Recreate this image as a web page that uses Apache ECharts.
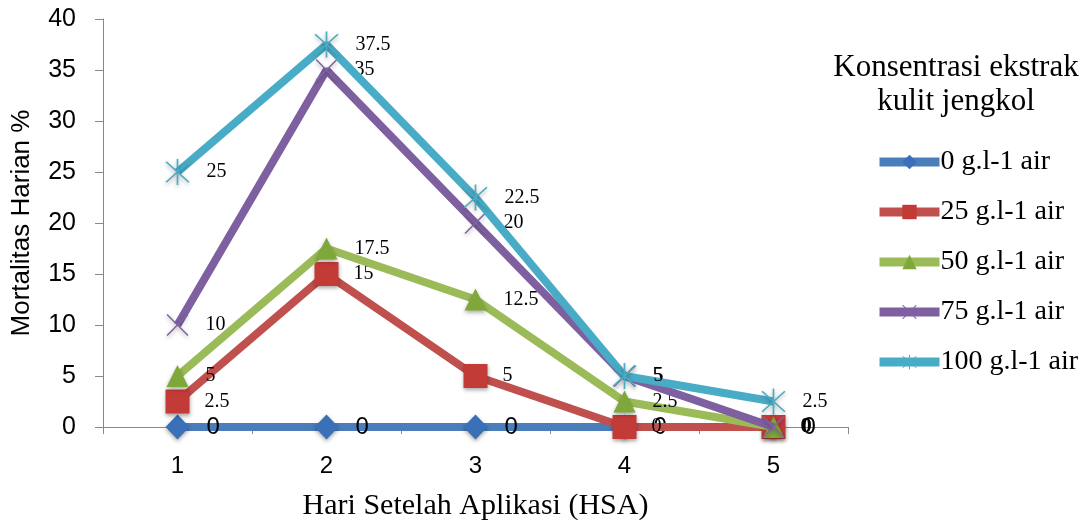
<!DOCTYPE html>
<html>
<head>
<meta charset="utf-8">
<script src="https://cdn.jsdelivr.net/npm/echarts@6/dist/echarts.min.js"></script>
<style>
html,body{margin:0;padding:0;background:#fff;}
#chart{width:1089px;height:523px;}
</style>
</head>
<body>
<div id="chart"></div>
<script>
const categories = ['1', '2', '3', '4', '5'];
const seriesNames = ['0 g.l-1 air', '25 g.l-1 air', '50 g.l-1 air', '75 g.l-1 air', '100 g.l-1 air'];
const s0 = [0, 0, 0, 0, 0];
const s25 = [2.5, 15, 5, 0, 0];
const s50 = [5, 17.5, 12.5, 2.5, 0];
const s75 = [10, 35, 20, 5, 0];
const s100 = [25, 37.5, 22.5, 5, 2.5];
const yTicks = [0, 5, 10, 15, 20, 25, 30, 35, 40];

const xPath = 'path://M1,0 L10,9 L19,0 L20,1 L11,10 L20,19 L19,20 L10,11 L1,20 L0,19 L9,10 L0,1 Z';
const starPath = 'path://M1,0 L10,9 L19,0 L20,1 L11,10 L20,19 L19,20 L10,11 L1,20 L0,19 L9,10 L0,1 Z M9.3,-2 L10.7,-2 L10.7,22 L9.3,22 Z';

const lineColors = ['#4A7EBB', '#C0504D', '#9BBB59', '#7E5FA0', '#48ACC6'];
const markerColors = ['#3A70B8', '#C33B37', '#7FA83A', '#8064A2', '#4BACC6'];
const symbols = ['diamond', 'rect', 'triangle', xPath, starPath];
const symbolSizes = [[24, 25], 24, [22, 22], 22, [24, 26]];
const dataSets = [s0, s25, s50, s75, s100];

const serifFont = '"Liberation Serif", "DejaVu Serif", serif';
const sansFont = '"Liberation Sans", Arial, sans-serif';

const series = dataSets.map((d, i) => ({
  name: seriesNames[i],
  type: 'line',
  data: d,
  symbol: symbols[i],
  symbolSize: symbolSizes[i],
  z: 2 + i,
  lineStyle: { color: lineColors[i], width: 8 },
  itemStyle: {
    color: markerColors[i],
    shadowBlur: 4,
    shadowColor: 'rgba(0,0,0,0.35)',
    shadowOffsetY: 2
  },
  label: {
    show: true,
    position: 'right',
    distance: i === 0 ? 17 : (i === 1 ? 15 : 17),
    color: '#000',
    fontFamily: i === 0 ? sansFont : serifFont,
    fontSize: i === 0 ? 24 : 20
  },
  emphasis: { disabled: true },
  animation: false
}));

const chart = echarts.init(document.getElementById('chart'));
chart.setOption({
  backgroundColor: '#fff',
  animation: false,
  title: {
    text: 'Konsentrasi ekstrak\nkulit jengkol',
    left: 956,
    top: 51,
    padding: 0,
    textAlign: 'center',
    textStyle: {
      fontFamily: serifFont,
      fontSize: 31,
      fontWeight: 'normal',
      color: '#000',
      lineHeight: 34
    }
  },
  legend: {
    orient: 'vertical',
    left: 875,
    top: 147,
    padding: 0,
    itemWidth: 60,
    itemHeight: 18,
    itemGap: 20,
    data: seriesNames,
    lineStyle: { width: 9 },
    textStyle: {
      fontFamily: serifFont,
      fontSize: 28,
      color: '#000',
      lineHeight: 30,
      padding: [0, 0, 0, -4]
    }
  },
  grid: { left: 103, right: 241, top: 19, bottom: 96, containLabel: false, outerBoundsMode: 'none' },
  xAxis: {
    type: 'category',
    data: categories,
    name: 'Hari Setelah Aplikasi (HSA)',
    nameLocation: 'middle',
    nameGap: 64,
    nameTextStyle: { fontFamily: serifFont, fontSize: 30, color: '#000' },
    axisLine: { lineStyle: { color: '#888', width: 1 } },
    axisTick: { show: true, length: 7, lineStyle: { color: '#888' } },
    axisLabel: { fontFamily: sansFont, fontSize: 24, color: '#000', margin: 27 }
  },
  yAxis: {
    type: 'value',
    min: yTicks[0],
    max: yTicks[yTicks.length - 1],
    interval: 5,
    name: 'Mortalitas Harian %',
    nameLocation: 'middle',
    nameGap: 68,
    nameTextStyle: { fontFamily: sansFont, fontSize: 26, color: '#000' },
    axisLine: { show: true, lineStyle: { color: '#888', width: 1 } },
    axisTick: { show: true, length: 8, lineStyle: { color: '#888' } },
    splitLine: { show: false },
    axisLabel: { fontFamily: sansFont, fontSize: 25, color: '#000', margin: 27 }
  },
  series: series
});
</script>
</body>
</html>
